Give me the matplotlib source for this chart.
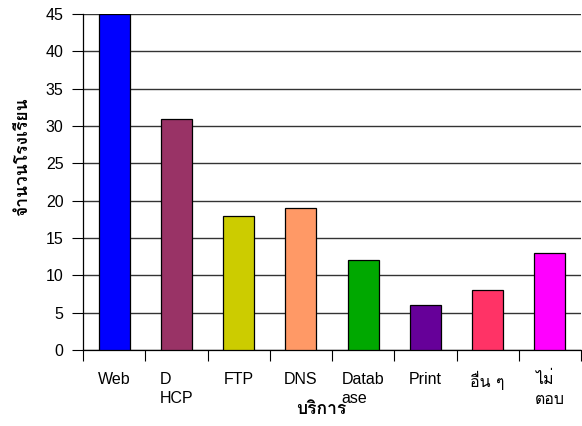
import matplotlib
matplotlib.use("Agg")
import matplotlib.pyplot as plt
import numpy as np

plt.rcParams['font.family'] = ['Liberation Sans', 'Loma', 'DejaVu Sans']

# ข้อมูลบริการที่โรงเรียนใช้
services = ["Web", "D\nHCP", "FTP", "DNS", "Datab\nase", "Print", "อื่น ๆ", "ไม่\nตอบ"]
counts = [45, 31, 18, 19, 12, 6, 8, 13]
colors = ["#0000FF", "#993366", "#CCCC00", "#FF9966", "#00A800", "#660099", "#FF3366", "#FF00FF"]

fig = plt.figure(figsize=(5.82, 4.26), dpi=100)
ax = fig.add_axes([83/582, 1-350/426, 498/582, 336/426])

x = np.arange(len(services))
ax.bar(x, counts, width=0.5, color=colors, edgecolor="black", linewidth=0.9, zorder=3)

ax.set_xlim(-0.5, len(services) - 0.5)
ax.set_ylim(0, 45)
ax.set_yticks(np.arange(0, 46, 5))
ax.yaxis.grid(True, color="#333333", linewidth=1.0, zorder=0)

# เส้นแบ่งหมวดหมู่เป็น major tick, ชื่อหมวดเป็น minor tick
ax.set_xticks(np.arange(-0.5, len(services), 1))
ax.set_xticklabels([])
ax.set_xticks(x, minor=True)
ax.set_xticklabels(services, minor=True, fontsize=11.5, ha="center", multialignment="left", va="top",
                   linespacing=1.3)
for lbl in ax.get_xticklabels(minor=True):
    if any("\u0e00" <= ch <= "\u0e7f" for ch in lbl.get_text()):
        lbl.set_family(["Loma"])
ax.tick_params(axis="x", which="major", length=8, width=0.8, direction="out")
ax.tick_params(axis="x", which="minor", length=0, pad=16)
ax.tick_params(axis="y", length=8, width=0.8, direction="out", labelsize=11.5, pad=6)

for s in ["top", "right"]:
    ax.spines[s].set_visible(False)
for s in ["left", "bottom"]:
    ax.spines[s].set_linewidth(0.9)

fig.text(23/582, 1-157/426, "จำนวนโรงเรียน", rotation=90, ha="center", va="center",
         fontsize=12.5, fontweight="bold", family=["Loma"])
fig.text(321/582, 1-410/426, "บริการ", ha="center", va="center",
         fontsize=12.5, fontweight="bold", family=["Loma"])

fig.savefig("out.png", dpi=100)
